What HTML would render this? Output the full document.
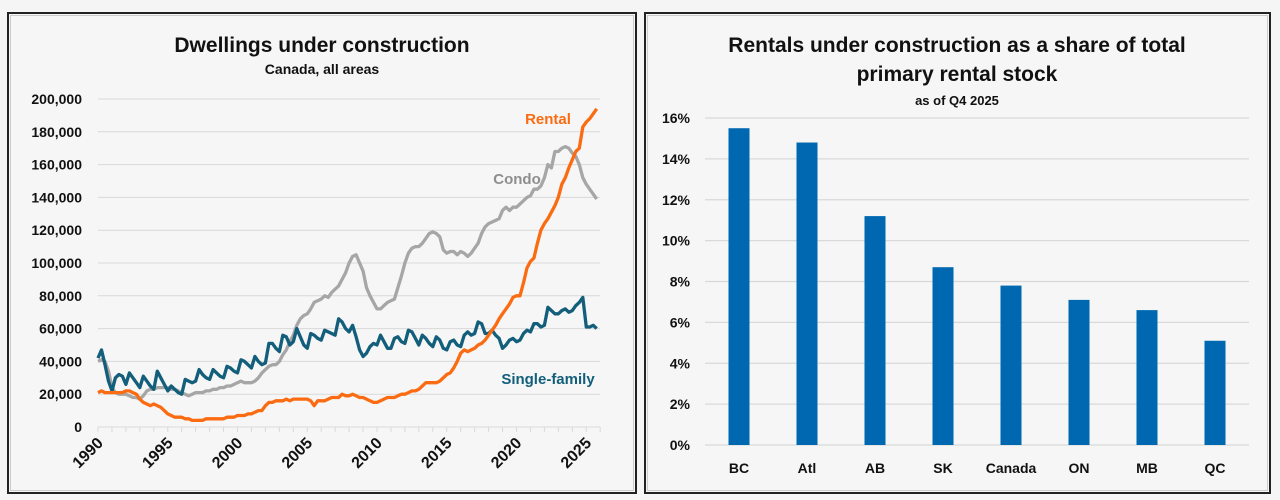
<!DOCTYPE html>
<html><head><meta charset="utf-8">
<style>
html,body{margin:0;padding:0;background:#f4f5f4;width:1280px;height:500px;overflow:hidden;font-family:"Liberation Sans",sans-serif;}
svg text{font-family:"Liberation Sans",sans-serif;font-weight:bold;}
</style></head>
<body>
<svg id="root" width="1280" height="500" viewBox="0 0 1280 500">
  <rect x="8" y="13" width="628" height="480" fill="#f5f6f5" stroke="#222" stroke-width="2"/>
  <rect x="10.5" y="15.5" width="623" height="475" fill="none" stroke="#ccc" stroke-width="1"/>
  <rect x="645" y="13" width="625" height="480" fill="#f5f6f5" stroke="#222" stroke-width="2"/>
  <rect x="647.5" y="15.5" width="620" height="475" fill="none" stroke="#ccc" stroke-width="1"/>
  <text x="322" y="52" font-size="21" text-anchor="middle" fill="#111">Dwellings under construction</text>
  <text x="322" y="74" font-size="14" text-anchor="middle" fill="#111">Canada, all areas</text>
  <text x="957" y="52" font-size="21" text-anchor="middle" fill="#111">Rentals under construction as a share of total</text>
  <text x="957" y="81" font-size="21" text-anchor="middle" fill="#111">primary rental stock</text>
  <text x="957" y="105" font-size="13" text-anchor="middle" fill="#111">as of Q4 2025</text>
  <g id="left"></g>
  <g id="right"></g>
</svg>
<script>
// ---- Left chart data (thousands, quarterly 1990Q1..2025Q4) ----
const startYear = 1990;
const yTicksLeft = [0,20000,40000,60000,80000,100000,120000,140000,160000,180000,200000];
const xTickYears = [1990,1995,2000,2005,2010,2015,2020,2025];
const rental = [21,22,21,21, 21,21,21,21, 22,22,21,20, 17,15,14,13, 14,13,12,10, 8,7,6,6, 6,5,5,4, 4,4,4,5, 5,5,5,5, 5,6,6,6, 7,7,7,8, 8,9,10,10, 13,15,15,16, 16,16,17,16, 17,17,17,17, 17,16,13,16, 16,16,17,18, 18,18,20,19, 19,20,19,18, 18,17,16,15, 15,16,17,18, 18,18,19,20, 20,21,22,22, 23,25,27,27, 27,27,28,30, 32,33,36,40, 45,47,46,47, 48,50,51,53, 56,59,62,66, 69,72,75,79, 80,80,88,97, 101,103,112,120, 124,127,131,135, 140,148,152,158, 163,168,170,183, 186,188,191,194];
const condo = [40,41,40,34, 24,21,20,20, 20,19,18,18, 17,19,22,23, 23,24,24,24, 24,23,23,22, 21,20,19,20, 21,21,21,22, 22,23,23,24, 24,25,25,26, 27,28,27,27, 27,28,30,33, 35,37,38,38, 40,44,47,52, 56,62,66,68, 69,72,76,77, 78,80,79,82, 84,86,90,94, 100,104,105,100, 95,85,80,76, 72,72,74,76, 77,78,85,92, 100,106,109,110, 110,112,115,118, 119,118,116,108, 106,107,107,105, 107,106,104,106, 109,112,118,122, 124,125,126,127, 132,134,132,134, 134,136,138,140, 141,145,145,147, 152,160,158,168, 168,170,171,170, 167,165,160,152, 148,145,142,139];
const singleFamily = [42,47,38,28, 22,30,32,31, 26,33,30,27, 24,31,28,25, 23,34,30,26, 22,25,23,21, 20,29,28,27, 28,35,32,30, 29,35,33,31, 30,37,36,34, 33,41,40,38, 36,43,40,38, 39,51,51,48, 46,56,55,50, 52,60,55,50, 48,57,56,54, 53,59,58,57, 56,66,64,60, 58,62,55,47, 43,45,49,51, 50,56,52,48, 48,54,55,52, 51,59,58,54, 50,56,54,51, 49,55,53,48, 47,52,53,50, 49,56,58,56, 57,64,63,57, 57,59,56,54, 48,50,53,54, 52,53,57,59, 58,63,63,61, 62,73,71,69, 69,71,72,70, 71,74,76,79, 61,61,62,60];

// ---- Right chart data ----
const regions = ["BC","Atl","AB","SK","Canada","ON","MB","QC"];
const shares = [15.5,14.8,11.2,8.7,7.8,7.1,6.6,5.1];
const yTicksRight = [0,2,4,6,8,10,12,14,16];

const NS = "http://www.w3.org/2000/svg";
function mk(parent, tag, attrs){ const e=document.createElementNS(NS,tag); for(const k in attrs) e.setAttribute(k,attrs[k]); parent.appendChild(e); return e; }

// Left axes
const L = {x0:98, x1:600, y0:427, y1:99};
const lx = t => L.x0 + (t - startYear) * 13.95;
const ly = v => L.y0 - v / 200000 * (L.y0 - L.y1);
const left = document.getElementById('left');
yTicksLeft.forEach(v=>{
  const g = mk(left,'line',{x1:L.x0,x2:L.x1,y1:ly(v),y2:ly(v),stroke:'#d9d9d9','stroke-width':1});
  
  
  const t = mk(left,'text',{x:82,y:ly(v)+5,'font-size':14,'text-anchor':'end',fill:'#111'});
  t.textContent = v.toLocaleString('en-US');
  
  
});
for(let y=1990;y<=2026;y++){
  const tk = mk(left,'line',{x1:lx(y),x2:lx(y),y1:L.y0,y2:L.y0+5,stroke:'#d9d9d9','stroke-width':1});
  
  
}
xTickYears.forEach(y=>{
  const t = mk(left,'text',{x:0,y:0,'font-size':16,'text-anchor':'end',fill:'#111',transform:`translate(${lx(y)+6},${L.y0+17}) rotate(-45)`});
  t.textContent = y;
  
  
});
function series(arr, color, name){
  const pts = arr.map((v,i)=>`${lx(startYear+i/4).toFixed(1)},${ly(v*1000).toFixed(1)}`).join(' ');
  const p = mk(left,'polyline',{points:pts,fill:'none',stroke:color,'stroke-width':3.3,'stroke-linejoin':'round'});
  
  
}
series(condo,'#a6a6a6','condo-line');
series(singleFamily,'#135e7a','single-family-line');
series(rental,'#fb6b12','rental-line');
[['Rental',548,124,'#fb6b12','rental-label'],['Condo',517,184,'#8e8e8e','condo-label'],['Single-family',548,384,'#135e7a','single-family-label']].forEach(d=>{
  const t = mk(left,'text',{x:d[1],y:d[2],'font-size':15,'text-anchor':'middle',fill:d[3]});
  t.textContent = d[0];
  
  
});

// Right axes
const R = {x0:705, x1:1249, y0:445, y1:118};
const ry = v => R.y0 - v / 16 * (R.y0 - R.y1);
const rxc = i => 739 + i * 68;
const right = document.getElementById('right');
yTicksRight.forEach(v=>{
  const g = mk(right,'line',{x1:R.x0,x2:R.x1,y1:ry(v),y2:ry(v),stroke:'#d9d9d9','stroke-width':1.2});
  
  
  const t = mk(right,'text',{x:690,y:ry(v)+5,'font-size':14,'text-anchor':'end',fill:'#111'});
  t.textContent = v + '%';
  
  
});
shares.forEach((v,i)=>{
  const b = mk(right,'rect',{x:rxc(i)-10.5,y:ry(v),width:21,height:R.y0-ry(v),fill:'#0068b0'});
  
  
  const t = mk(right,'text',{x:rxc(i),y:473,'font-size':14,'text-anchor':'middle',fill:'#111'});
  t.textContent = regions[i];
  
  
});
</script>
</body></html>
